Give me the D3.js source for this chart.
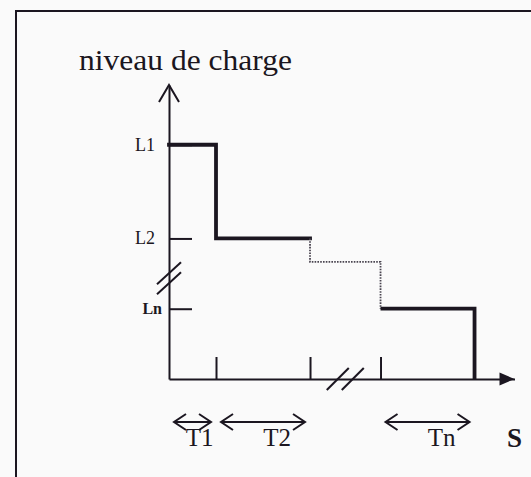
<!DOCTYPE html>
<html>
<head>
<meta charset="utf-8">
<script src="https://cdn.jsdelivr.net/npm/d3@7"></script>
<style>
  html, body { margin: 0; padding: 0; background: #fafafa; }
  svg { display: block; }
</style>
</head>
<body>
<svg id="chart" width="531" height="477"></svg>
<script>
// Charge levels (arbitrary units) and their labels on the vertical axis
const levelLabels = ["L1", "L2", "Ln"];
const levelValues = [10, 6, 3];

// Stages along S: start, end and charge level; the third stage is elided (dotted)
const stageStart = [0, 1, 3, 4.5];
const stageEnd   = [1, 3, 4.5, 6.5];
const stageLevel = [10, 6, 5, 3];

// Interval labels under the S axis
const periodLabels = ["T1", "T2", "Tn"];
const periodStart  = [0, 1, 4.5];
const periodEnd    = [1, 3, 6.5];

// Tick positions on the S axis
const sTicks = [1, 3, 4.5];

const ink = "#1b1620";
const serif = "Liberation Serif, Times New Roman, serif";
const svg = d3.select("#chart");
const W = 531, H = 477;

const x = d3.scaleLinear().domain([0, 7.35]).range([169, 514.5]);
const y = d3.scaleLinear().domain([0, 12.55]).range([379, 85]);

// frame
svg.append("path")
  .attr("d", `M16,${H} V11 H${W}`)
  .attr("fill", "none").attr("stroke", ink).attr("stroke-width", 2);

// title of the vertical axis
svg.append("text")
  .attr("x", 79).attr("y", 70)
  .attr("font-family", serif)
  .attr("font-size", 29)
  .attr("textLength", 213)
  .attr("lengthAdjust", "spacingAndGlyphs")
  .attr("fill", ink)
  .text("niveau de charge");

// vertical axis with level ticks pointing inward
const yAxis = d3.axisLeft(y)
  .tickValues(levelValues)
  .tickSizeInner(-23)
  .tickSizeOuter(0)
  .tickPadding(14)
  .tickFormat((d, i) => levelLabels[i]);
const gy = svg.append("g").attr("transform", `translate(${x(0)},0)`).call(yAxis);
gy.select(".domain").attr("stroke", ink).attr("stroke-width", 2);
gy.selectAll(".tick line").attr("stroke", ink).attr("stroke-width", 2);
gy.selectAll(".tick text")
  .attr("font-family", serif)
  .attr("font-size", 18)
  .attr("fill", ink)
  .attr("dy", "0.3em");
gy.selectAll(".tick text").filter((d, i) => i === 2)
  .attr("font-weight", "bold").attr("font-size", 16).attr("dx", 7);

// horizontal axis with upward ticks
const xAxis = d3.axisBottom(x)
  .tickValues(sTicks)
  .tickSizeInner(-22)
  .tickSizeOuter(0)
  .tickFormat("");
const gx = svg.append("g").attr("transform", `translate(0,${y(0)})`).call(xAxis);
gx.select(".domain").attr("stroke", ink).attr("stroke-width", 2.2);
gx.selectAll(".tick line").attr("stroke", ink).attr("stroke-width", 2);

// arrowheads
const yTop = y.range()[1];
svg.append("path")
  .attr("d", `M${x(0) - 10},${yTop + 17} L${x(0)},${yTop} L${x(0) + 10},${yTop + 17}`)
  .attr("fill", "none").attr("stroke", ink).attr("stroke-width", 2);
const xEnd = x.range()[1];
svg.append("path")
  .attr("d", `M${xEnd - 15},${y(0) - 6.5} L${xEnd},${y(0)} L${xEnd - 15},${y(0) + 6.5} Z`)
  .attr("fill", ink);

// axis breaks
const breakY = y(4.3);
const breakX = x(3.75);
[-5, 5].forEach(o => {
  svg.append("line")
    .attr("x1", x(0) - 12).attr("y1", breakY + o + 11)
    .attr("x2", x(0) + 12).attr("y2", breakY + o - 11)
    .attr("stroke", ink).attr("stroke-width", 2);
  svg.append("line")
    .attr("x1", breakX + o * 1.5 - 11).attr("y1", y(0) + 11)
    .attr("x2", breakX + o * 1.5 + 11).attr("y2", y(0) - 11)
    .attr("stroke", ink).attr("stroke-width", 2);
});

// stepped charge profile
const line = d3.line().x(d => x(d[0])).y(d => y(d[1]));
const solidA = [
  [stageStart[0], stageLevel[0]],
  [stageEnd[0], stageLevel[0]],
  [stageEnd[0], stageLevel[1]],
  [stageEnd[1], stageLevel[1]]
];
const dotted = [
  [stageEnd[1], stageLevel[1]],
  [stageStart[2], stageLevel[2]],
  [stageEnd[2], stageLevel[2]],
  [stageEnd[2], stageLevel[3]]
];
const solidB = [
  [stageStart[3], stageLevel[3]],
  [stageEnd[3], stageLevel[3]],
  [stageEnd[3], 0]
];
svg.append("path").attr("d", line(solidA))
  .attr("fill", "none").attr("stroke", ink).attr("stroke-width", 3.8)
  .attr("stroke-linejoin", "miter").attr("stroke-linecap", "square");
svg.append("path").attr("d", line(dotted))
  .attr("fill", "none").attr("stroke", "#4a4550").attr("stroke-width", 1.8)
  .attr("stroke-dasharray", "1.6,1.2");
svg.append("path").attr("d", line(solidB))
  .attr("fill", "none").attr("stroke", ink).attr("stroke-width", 3.8)
  .attr("stroke-linejoin", "miter").attr("stroke-linecap", "butt");

// interval arrows with labels
const arrowY = 422;
periodLabels.forEach((lab, i) => {
  const a = x(periodStart[i]) + 5, b = x(periodEnd[i]) - 5;
  const g = svg.append("g").attr("stroke", ink).attr("stroke-width", 2).attr("fill", "none");
  g.append("line").attr("x1", a).attr("y1", arrowY).attr("x2", b).attr("y2", arrowY);
  g.append("path").attr("d", `M${a + 12},${arrowY - 8} L${a},${arrowY} L${a + 12},${arrowY + 8}`);
  g.append("path").attr("d", `M${b - 12},${arrowY - 8} L${b},${arrowY} L${b - 12},${arrowY + 8}`);
  const w = x(periodEnd[i]) - x(periodStart[i]);
  svg.append("text")
    .attr("x", (x(periodStart[i]) + x(periodEnd[i])) / 2 + 0.15 * w)
    .attr("y", 446)
    .attr("text-anchor", "middle")
    .attr("font-family", serif)
    .attr("font-size", 25)
    .attr("fill", ink)
    .text(lab);
});

// horizontal axis name
svg.append("text")
  .attr("x", xEnd).attr("y", 447)
  .attr("text-anchor", "middle")
  .attr("font-family", serif)
  .attr("font-size", 27).attr("font-weight", "bold")
  .attr("fill", ink)
  .text("S");
</script>
</body>
</html>
